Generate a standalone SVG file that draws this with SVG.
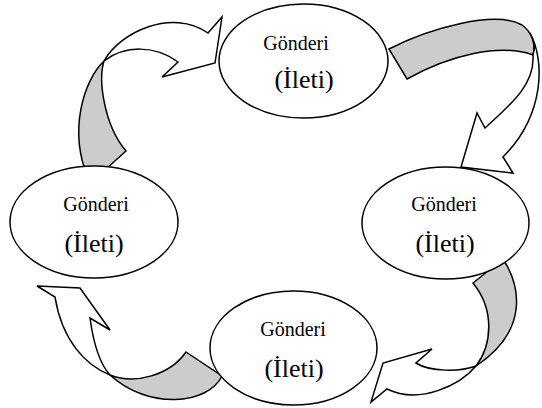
<svg xmlns="http://www.w3.org/2000/svg" width="542" height="408" viewBox="0 0 542 408">
  <style>
    .back { fill: #cccccc; stroke: #000; stroke-width: 1.5; stroke-linejoin: miter; }
    .front { fill: #ffffff; stroke: #000; stroke-width: 1.5; stroke-linejoin: miter; }
    .node ellipse { fill: #ffffff; stroke: #000; stroke-width: 1.5; }
    .t1 { font-family: "Liberation Serif", "Times New Roman", serif; font-size: 20px; fill: #000; text-anchor: middle; }
    .t2 { font-family: "Liberation Serif", "Times New Roman", serif; font-size: 26px; fill: #000; text-anchor: middle; }
  </style>
  <rect width="542" height="408" fill="#ffffff"/>

  <!-- curved ribbon arrows between the messages -->
  <g id="connectors">
    <!-- left -> top -->
    <g id="arrow-left-top">
      <path class="back" d="M 126,151 L 96,178 L 88,178 C 68,130 84,80 104,61 C 98,80 104,125 126,151 Z"/>
      <path class="front" d="M 104,61 C 120,32 172,8 208,33 L 222,17 L 215,63 L 162,77 L 178,62 C 155,45 125,45 104,61 Z"/>
    </g>
    <!-- top -> right -->
    <g id="arrow-top-right">
      <path class="back" d="M 389,49 C 430,28 495,10 522,25 C 532,32 536,45 533,55 C 500,43 450,55 407,79 Z"/>
      <path class="front" d="M 530,33 C 545,60 545,115 503,157 L 513,173 L 461,167 L 477,113 L 485,128 C 510,105 535,85 533,55 C 536,45 534,40 530,33 Z"/>
    </g>
    <!-- right -> bottom -->
    <g id="arrow-right-bottom">
      <path class="back" d="M 503,259 C 520,285 530,330 476,366 C 492,345 495,310 473,283 Z"/>
      <path class="front" d="M 476,366 C 460,385 420,405 387,389 L 371,402 L 383,363 L 432,349 L 416,363 C 430,372 460,372 476,366 Z"/>
    </g>
    <!-- bottom -> left -->
    <g id="arrow-bottom-left">
      <path class="back" d="M 186,352 L 222,376 C 208,405 148,410 110,375 C 135,385 170,375 186,352 Z"/>
      <path class="front" d="M 110,375 C 85,365 62,340 55,297 L 37,286 L 80,288 L 110,330 L 90,318 C 93,340 98,362 110,375 Z"/>
    </g>
  </g>

  <!-- message nodes -->
  <g id="node-top" class="node">
    <ellipse cx="303.5" cy="61" rx="84.5" ry="57"/>
    <text class="t1" x="296" y="50">Gönderi</text>
    <text class="t2" x="304" y="88">(İleti)</text>
  </g>
  <g id="node-left" class="node">
    <ellipse cx="94" cy="222" rx="84" ry="56"/>
    <text class="t1" x="96" y="211">Gönderi</text>
    <text class="t2" x="94" y="252">(İleti)</text>
  </g>
  <g id="node-right" class="node">
    <ellipse cx="445.5" cy="223" rx="83.5" ry="56"/>
    <text class="t1" x="444" y="211">Gönderi</text>
    <text class="t2" x="445" y="252">(İleti)</text>
  </g>
  <g id="node-bottom" class="node">
    <ellipse cx="293.5" cy="348" rx="83.5" ry="57"/>
    <text class="t1" x="293" y="336">Gönderi</text>
    <text class="t2" x="294" y="377">(İleti)</text>
  </g>
</svg>
